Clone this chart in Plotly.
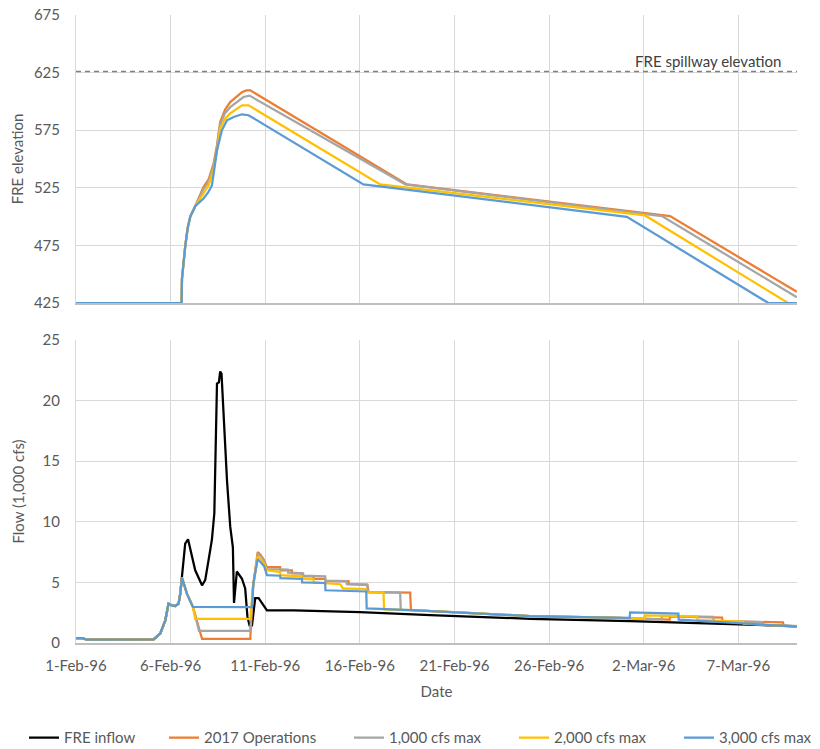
import pandas as pd
import plotly.graph_objects as go
from plotly.subplots import make_subplots

START = pd.Timestamp("1996-02-01")
END_DAY = 38.1

# =========================
# DATA (x = days after 1-Feb-96)
# =========================
tick_days = [0, 5, 10, 15, 20, 25, 30, 35]
tick_labels = ["1-Feb-96", "6-Feb-96", "11-Feb-96", "16-Feb-96",
               "21-Feb-96", "26-Feb-96", "2-Mar-96", "7-Mar-96"]

series_names = ["FRE inflow", "2017 Operations", "1,000 cfs max", "2,000 cfs max", "3,000 cfs max"]
series_colors = ["#000000", "#ED7D31", "#A5A5A5", "#FFC000", "#5B9BD5"]

spillway_elev = 626

# --- FRE elevation (shared start of the rise)
rise_days = [0, 5.58, 5.60, 5.68, 5.77, 5.90, 6.04, 6.30]
rise_elev = [425, 425, 446, 462, 474, 490, 500, 509]

ops2017_elev_days = [6.74, 7.00, 7.27, 7.45, 7.62, 7.88, 8.15, 8.77, 9.00, 9.21, 17.49, 31.39, 38.09]
ops2017_elev = [525.8, 532, 546, 562, 582, 593, 599.4, 608, 609.6, 609.6, 528, 500.4, 434.8]

max1000_elev_days = [6.74, 7.00, 7.27, 7.45, 7.62, 7.88, 8.15, 8.85, 9.17, 17.40, 30.96, 38.09]
max1000_elev = [524, 530, 544, 560, 580, 590, 595, 603.8, 605, 528, 500.5, 430]

max2000_elev_days = [6.74, 7.00, 7.27, 7.45, 7.62, 7.88, 8.15, 8.77, 9.12, 16.07, 30.07, 37.63, 38.09]
max2000_elev = [521, 527, 541, 557, 576.6, 585, 589.6, 596.6, 596.6, 528, 501, 425, 425]

max3000_elev_days = [6.74, 7.00, 7.18, 7.27, 7.45, 7.71, 7.98, 8.33, 8.77, 9.12, 15.19, 29.11, 36.59, 38.09]
max3000_elev = [515.7, 521.5, 527, 537, 557.6, 575, 583.6, 586.5, 588.8, 588, 528, 499.8, 425, 425]

# --- Flow (1,000 cfs), shared early part
early_days = [0, 0.3, 0.58, 4.10, 4.45, 4.72, 4.89, 5.07, 5.25, 5.42, 5.51, 5.60]
early_flow = [0.41, 0.40, 0.28, 0.30, 0.78, 1.87, 3.25, 3.10, 3.05, 3.25, 4.07, 5.40]

inflow_days = [5.77, 5.92, 6.13, 6.30, 6.66, 6.83, 7.00, 7.18, 7.31, 7.38,
               7.45, 7.55, 7.62, 7.69, 7.80, 7.98, 8.15, 8.29, 8.35, 8.50,
               8.77, 8.94, 9.06, 9.17, 9.30, 9.47, 9.65, 9.91, 10.09, 11.5,
               15.0, 18.72, 24.0, 29.3, 34.56, 38.09]
inflow = [8.2, 8.55, 7.1, 6.0, 4.76, 5.2, 6.8, 8.5, 10.7, 15.5,
          21.4, 21.5, 22.4, 22.2, 18.9, 13.4, 9.6, 7.9, 3.3, 5.9,
          5.3, 4.5, 2.15, 1.46, 1.46, 3.7, 3.7, 3.1, 2.7, 2.7,
          2.55, 2.3, 2.0, 1.8, 1.55, 1.4]

ops2017_flow_days = [5.86, 6.18, 6.66, 9.21, 9.35, 9.60, 9.74, 9.91, 10.09, 10.79,
                     10.80, 11.41, 11.42, 11.94, 11.95, 12.55, 12.56, 13.17, 13.18, 14.40,
                     14.41, 15.40, 15.46, 17.66, 17.70, 20.46, 24.0, 28.2, 31.37, 31.39,
                     34.14, 34.17, 37.36, 37.39, 38.09]
ops2017_flow = [4.07, 2.97, 0.35, 0.35, 4.6, 7.5, 7.3, 6.9, 6.25, 6.25,
                6.0, 6.0, 5.75, 5.75, 5.5, 5.5, 5.3, 5.3, 5.1, 5.1,
                4.85, 4.8, 4.2, 4.15, 2.72, 2.5, 2.22, 2.1, 1.93, 2.2,
                2.1, 1.8, 1.7, 1.42, 1.35]

max1000_flow_days = [5.86, 6.18, 6.50, 9.21, 9.35, 9.62, 9.74, 9.91, 10.09, 11.20,
                     11.21, 12.00, 12.01, 13.17, 13.18, 14.30, 14.31, 15.38, 15.42, 17.13,
                     17.16, 17.7, 20.46, 24.0, 28.2, 30.94, 30.96, 33.67, 33.70, 36.30,
                     36.33, 38.09]
max1000_flow = [4.07, 2.97, 1.0, 1.0, 4.6, 7.35, 7.2, 6.8, 6.1, 6.05,
                5.8, 5.75, 5.55, 5.5, 5.15, 5.1, 4.85, 4.82, 4.2, 4.15,
                2.74, 2.72, 2.5, 2.22, 2.1, 1.95, 2.24, 2.15, 1.82, 1.72,
                1.5, 1.35]

max2000_flow_days = [5.86, 6.18, 6.30, 9.21, 9.35, 9.60, 9.74, 9.91, 10.09, 10.79,
                     10.80, 11.94, 11.95, 12.55, 12.56, 13.96, 14.10, 15.30, 15.35, 16.25,
                     16.28, 17.7, 20.46, 24.0, 28.2, 30.05, 30.07, 32.82, 32.85, 35.25,
                     35.28, 38.09]
max2000_flow = [4.07, 2.97, 2.0, 2.0, 4.6, 7.1, 7.0, 6.6, 6.0, 5.85,
                5.6, 5.5, 5.3, 5.25, 5.0, 4.85, 4.5, 4.45, 4.2, 4.15,
                2.78, 2.72, 2.5, 2.22, 2.1, 2.02, 2.28, 2.2, 1.88, 1.77,
                1.6, 1.35]

max3000_flow_days = [5.86, 6.18, 9.30, 9.38, 9.60, 9.74, 9.95, 10.09, 10.79, 10.80,
                     11.94, 11.95, 13.17, 13.18, 15.34, 15.36, 17.7, 20.46, 24.0, 28.2,
                     29.26, 29.28, 31.83, 31.85, 35.25, 38.09]
max3000_flow = [4.07, 2.97, 2.95, 5.0, 6.9, 6.7, 6.3, 5.6, 5.55, 5.35,
                5.3, 5.0, 4.95, 4.35, 4.25, 2.85, 2.72, 2.5, 2.22, 2.1,
                2.08, 2.52, 2.42, 1.92, 1.62, 1.35]


def to_dates(days):
    return START + pd.to_timedelta(days, unit="D")


FONT = "Lato, Liberation Sans, Arial, sans-serif"
TXT = "#595959"
GRID = "#D9D9D9"

fig = make_subplots(rows=2, cols=1)

# =========================
# TOP: FRE elevation
# =========================
elev_series = [
    (ops2017_elev_days, ops2017_elev),
    (max1000_elev_days, max1000_elev),
    (max2000_elev_days, max2000_elev),
    (max3000_elev_days, max3000_elev),
]
for i, (d, v) in enumerate(elev_series):
    fig.add_trace(
        go.Scatter(
            x=to_dates(rise_days + d), y=rise_elev + v,
            mode="lines", line=dict(color=series_colors[i + 1], width=2.25),
            name=series_names[i + 1], showlegend=False, hoverinfo="skip",
        ),
        row=1, col=1,
    )

fig.add_hline(y=spillway_elev, line=dict(color="#7F7F7F", width=1.5, dash="5px,4px"), row=1, col=1)
fig.add_annotation(
    text="FRE spillway elevation", xref="x domain", yref="y",
    x=0.98, y=spillway_elev, xanchor="right", yanchor="bottom", yshift=-1,
    showarrow=False, font=dict(family=FONT, size=15, color="#404040"),
)

# =========================
# BOTTOM: Flow
# =========================
flow_series = [
    (inflow_days, inflow),
    (ops2017_flow_days, ops2017_flow),
    (max1000_flow_days, max1000_flow),
    (max2000_flow_days, max2000_flow),
    (max3000_flow_days, max3000_flow),
]
legend_px = [30, 170, 355, 520, 685]
for i, (d, v) in enumerate(flow_series):
    lg = "legend" if i == 0 else f"legend{i + 1}"
    fig.add_trace(
        go.Scatter(
            x=to_dates(early_days + d), y=early_flow + v,
            mode="lines", line=dict(color=series_colors[i], width=2.25),
            name=series_names[i], legend=lg, hoverinfo="skip",
        ),
        row=2, col=1,
    )

# =========================
# LAYOUT
# =========================
x_range = [START, START + pd.Timedelta(days=END_DAY)]
tick_dates = to_dates(tick_days)

common_x = dict(
    range=x_range, tickvals=tick_dates, ticktext=tick_labels,
    showgrid=True, gridcolor=GRID, gridwidth=1,
    showline=True, linecolor="#BFBFBF", linewidth=1.5,
    ticks="", zeroline=False, automargin=False,
)
fig.update_xaxes(**common_x)
fig.update_xaxes(showticklabels=False, row=1, col=1)
fig.update_xaxes(
    tickfont=dict(family=FONT, size=15, color=TXT), ticklabelstandoff=8,
    title=dict(text="Date", font=dict(family=FONT, size=15, color=TXT), standoff=14),
    row=2, col=1,
)

common_y = dict(
    showgrid=True, gridcolor=GRID, gridwidth=1, zeroline=False,
    showline=True, linecolor=GRID, ticks="", ticklabelstandoff=12,
    tickfont=dict(family=FONT, size=15, color=TXT), automargin=False,
)
fig.update_yaxes(**common_y)
fig.update_yaxes(
    range=[425, 675], tick0=425, dtick=50, domain=[0.5414, 1.0],
    title=dict(text="FRE elevation", font=dict(family=FONT, size=15, color=TXT), standoff=6),
    row=1, col=1,
)
fig.update_yaxes(
    range=[0, 25], tick0=0, dtick=5, domain=[0.0, 0.4825],
    title=dict(text="Flow (1,000 cfs)", font=dict(family=FONT, size=15, color=TXT), standoff=14),
    row=2, col=1,
)

plot_l, plot_w = 76, 721
legend_layout = {}
for i, px in enumerate(legend_px):
    key = "legend" if i == 0 else f"legend{i + 1}"
    legend_layout[key] = dict(
        x=(px - 6 - plot_l) / plot_w, xanchor="left",
        y=-0.151, yanchor="middle", orientation="h",
        font=dict(family=FONT, size=15, color=TXT),
        bgcolor="rgba(0,0,0,0)", itemwidth=30,
    )

fig.update_layout(
    width=820, height=749,
    margin=dict(l=76, r=23, t=15, b=106, autoexpand=False),
    plot_bgcolor="white", paper_bgcolor="white",
    font=dict(family=FONT, color=TXT),
    showlegend=True,
    **legend_layout,
)

# page body margin would push the 820x749 figure off the window
fig.write_html(
    "out.html",
    config={"displayModeBar": False},
    post_script="document.body.style.margin='0';",
)
